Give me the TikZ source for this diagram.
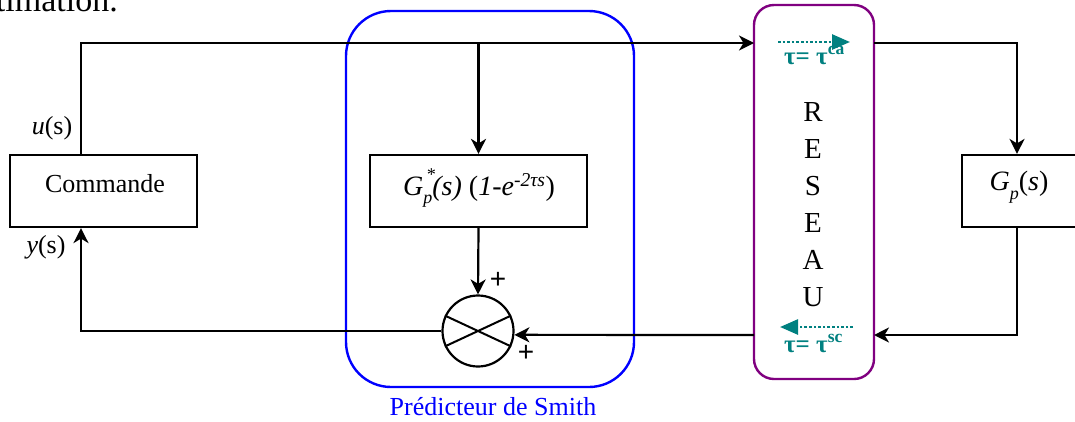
\documentclass[tikz,border=0pt]{standalone}
\usepackage{fontspec}
\setmainfont{Liberation Serif}
\newfontfamily\plusfont{Liberation Sans}
\usetikzlibrary{arrows.meta,calc}
\definecolor{tealc}{RGB}{0,128,128}
\definecolor{purplec}{RGB}{128,0,128}
\definecolor{bluec}{RGB}{0,0,255}
\newcommand{\supsubtxt}[2]{\rlap{\hspace{0.1em}\raisebox{0.55em}{\fontsize{18}{18}\selectfont #1}}\raisebox{-0.3em}{\fontsize{18}{18}\selectfont #2}}
\tikzset{
  blk/.style={draw=black,line width=2.2pt,rectangle,inner sep=0pt},
  conn/.style={line width=2.2pt,-{Stealth[length=15pt,width=15pt,inset=4.5pt]}},
  txt/.style={font=\fontsize{26}{30}\selectfont,inner sep=0pt},
  tautxt/.style={font=\fontsize{25}{26}\selectfont\bfseries,text=tealc,inner sep=0pt},
  tauarrow/.style={tealc,line width=2.6pt,dotted,-{Triangle[length=18pt,width=15pt]}},
}
\begin{document}
\begin{tikzpicture}[x=1pt,y=-1pt]
\clip (0,0) rectangle (1075,421);
\fill[white] (0,0) rectangle (1075,421);
% clipped fragment of surrounding text
\node[font=\fontsize{34}{38}\selectfont,inner sep=0pt,anchor=base east] (frag) at (118,11) {estimation.};
% frames
\draw[bluec,line width=2.4pt,rounded corners=45pt] (346,11) rectangle (634,387);
\node[txt,text=bluec] (smith) at (493,407) {Prédicteur de Smith};
\draw[purplec,line width=2.4pt,rounded corners=20pt] (754,5) rectangle (874,379);
\coordinate (resw) at (754,192);
\coordinate (rese) at (874,192);
\node[font=\fontsize{29}{37}\selectfont,align=center,inner sep=0pt] (reseau) at (813,205) {R\\E\\S\\E\\A\\U};
% blocks
\node[blk,minimum width=187pt,minimum height=72pt] (cmd) at (103.5,191) {};
\node[txt] (cmdt) at (105,184) {Commande};
\node[blk,minimum width=217pt,minimum height=72pt] (gps) at (478.5,191) {};
\node[font=\fontsize{28}{30}\selectfont,inner sep=0pt] (gpst) at (479,188) {\itshape G\supsubtxt{*}{p}(s) \upshape(\itshape 1-e\textsuperscript{-2τs}\upshape)};
\node[blk,minimum width=128pt,minimum height=72pt] (gp) at (1026,191) {};
\node[font=\fontsize{28}{30}\selectfont,inner sep=0pt] (gpt) at (1019,187) {\itshape G\raisebox{-0.3em}{\fontsize{18}{18}\selectfont p}\upshape(\itshape s\upshape)};
\node[draw,circle,line width=2.2pt,minimum size=71pt,inner sep=0pt] (sum) at (478,331) {};
\draw[line width=2pt] (sum.155) -- (sum.-25) (sum.25) -- (sum.-155);
% coordinates
\coordinate (c1) at (81,43);
\coordinate (c2) at (1017,43);
\coordinate (c3) at (1017,335);
\coordinate (c4) at (81,331);
% connectors
\draw[conn] (cmd.north -| c1) -- (c1) -- (c1 -| resw);
\draw[conn] (gps.north |- c1) -- (gps.north);
\draw[conn] (c1 -| rese) -- (c2) -- (c2 |- gp.north);
\draw[conn] (c3 |- gp.south) -- (c3) -- (c3 -| rese);
\draw[conn] (c3 -| resw) -- (sum.-6.5);
\draw[conn] (gps.south) -- (sum.north);
\draw[conn] (sum.west) -- (c4) -- (c4 |- cmd.south);
% labels
\node[txt] (ulab) at (52,128) {\itshape u\upshape(s)};
\node[txt] (ylab) at (46,247) {\itshape y\upshape(s)};
\node[font=\plusfont\fontsize{28}{28}\selectfont,inner sep=0pt] (p1) at (498,280) {+};
\node[font=\plusfont\fontsize{28}{28}\selectfont,inner sep=0pt] (p2) at (526,353) {+};
% tau annotations
\node[tautxt,anchor=base west] (tau1) at (784,64) {τ= τ\textsuperscript{ca}};
\coordinate (t1a) at (778,42);
\coordinate (t1b) at (850,42);
\draw[tauarrow] (t1a) -- (t1b);
\node[tautxt,anchor=base west] (tau2) at (784,352) {τ= τ\textsuperscript{sc}};
\coordinate (t2a) at (853,327);
\coordinate (t2b) at (780,327);
\draw[tauarrow] (t2a) -- (t2b);
\end{tikzpicture}
\end{document}
